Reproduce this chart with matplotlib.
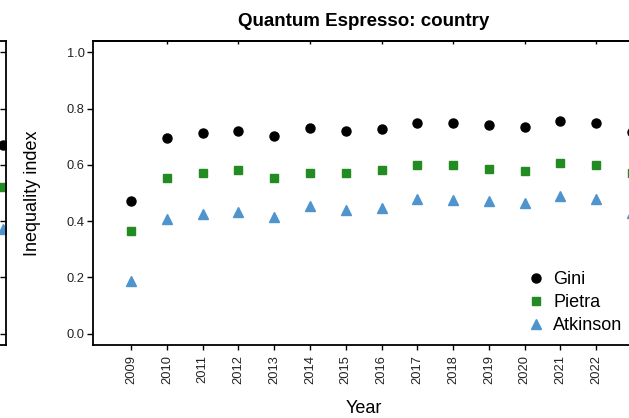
import numpy as np
import matplotlib.pyplot as plt

plt.rcParams['font.family'] = ['Liberation Sans', 'DejaVu Sans']

years = [2009, 2010, 2011, 2012, 2013, 2014, 2015, 2016, 2017, 2018, 2019, 2020, 2021, 2022, 2023]
gini = [0.473, 0.696, 0.714, 0.720, 0.703, 0.731, 0.720, 0.727, 0.748, 0.747, 0.743, 0.734, 0.756, 0.747, 0.718]
pietra = [0.364, 0.554, 0.572, 0.582, 0.554, 0.572, 0.572, 0.580, 0.601, 0.601, 0.586, 0.579, 0.607, 0.598, 0.572]
atkinson = [0.186, 0.406, 0.427, 0.433, 0.416, 0.453, 0.438, 0.446, 0.477, 0.474, 0.471, 0.463, 0.491, 0.477, 0.430]
tick_years = [2009, 2010, 2011, 2012, 2013, 2014, 2015, 2016, 2017, 2018, 2019, 2020, 2021, 2022]
top_years = [2010, 2012, 2014, 2016, 2018, 2020, 2022]
y_ticks = [0.0, 0.2, 0.4, 0.6, 0.8, 1.0]

# neighbouring panel, only its last year shows at the left edge
left_years = [2023]
left_gini = [0.670]
left_pietra = [0.520]
left_atkinson = [0.371]

c_gini, c_pietra, c_atk = 'black', '#228B22', '#4F94CD'

W, H = 629, 418
fig = plt.figure(figsize=(W / 100, H / 100), dpi=100)

# axes box in pixels: left 93, right 635, top 41, bottom 345
ax = fig.add_axes([93 / W, (H - 345) / H, 542 / W, 304 / H])
ax_l = fig.add_axes([(6 - 542) / W, (H - 345) / H, 542 / W, 304 / H])

xlim = (2009 - 38 / 35.75, 2023 + 3 / 35.75)
for a in (ax, ax_l):
    a.set_xlim(*xlim)
    a.set_ylim(-0.04, 1.04)
    for s in a.spines.values():
        s.set_linewidth(1.3)

# main panel
ax.plot(years, gini, 'o', color=c_gini, ms=6.5, ls='none', label='Gini', clip_on=False)
ax.plot(years, pietra, 's', color=c_pietra, ms=6.3, ls='none', label='Pietra', clip_on=False)
ax.plot(years, atkinson, '^', color=c_atk, ms=7.5, ls='none', label='Atkinson', clip_on=False)

ax.set_yticks(y_ticks)
ax.set_yticklabels([f'{v:.1f}' for v in y_ticks])
ax.set_xticks(tick_years)
ax.set_xticklabels([str(y) for y in tick_years], rotation=90)
ax.tick_params(axis='y', direction='out', length=4, width=1, pad=2, labelsize=9.3, labelcolor='#222222')
ax.tick_params(axis='x', direction='out', length=3.5, width=1, pad=4, labelsize=9.3, labelcolor='#222222')

top = ax.secondary_xaxis('top')
top.set_xticks(top_years)
top.tick_params(direction='in', length=2.5, width=1, labeltop=False)
top.spines['top'].set_linewidth(1.3)

ax.set_title('Quantum Espresso: country', fontsize=13.5, fontweight='bold', pad=11)
ax.set_ylabel('Inequality index', fontsize=13)
ax.yaxis.set_label_coords(-0.0962, 0.5)
ax.set_xlabel('Year', fontsize=13)
ax.xaxis.set_label_coords(0.5, -0.182)

ax.legend(loc='upper left', bbox_to_anchor=(0.8007, 0.243), frameon=False, fontsize=13,
          borderpad=0, borderaxespad=0, handlelength=1, handletextpad=0.45, labelspacing=0.33)

# left panel remnant
ax_l.plot(left_years, left_gini, 'o', color=c_gini, ms=6.5, ls='none')
ax_l.plot(left_years, left_pietra, 's', color=c_pietra, ms=6.3, ls='none')
ax_l.plot(left_years, left_atkinson, '^', color=c_atk, ms=7.5, ls='none')
ax_l.set_xticks([])
ax_l.set_yticks(y_ticks)
ax_l.tick_params(axis='y', left=False, labelleft=False, right=True, direction='in', length=4, width=1)

fig.savefig('out.png', dpi=100)
